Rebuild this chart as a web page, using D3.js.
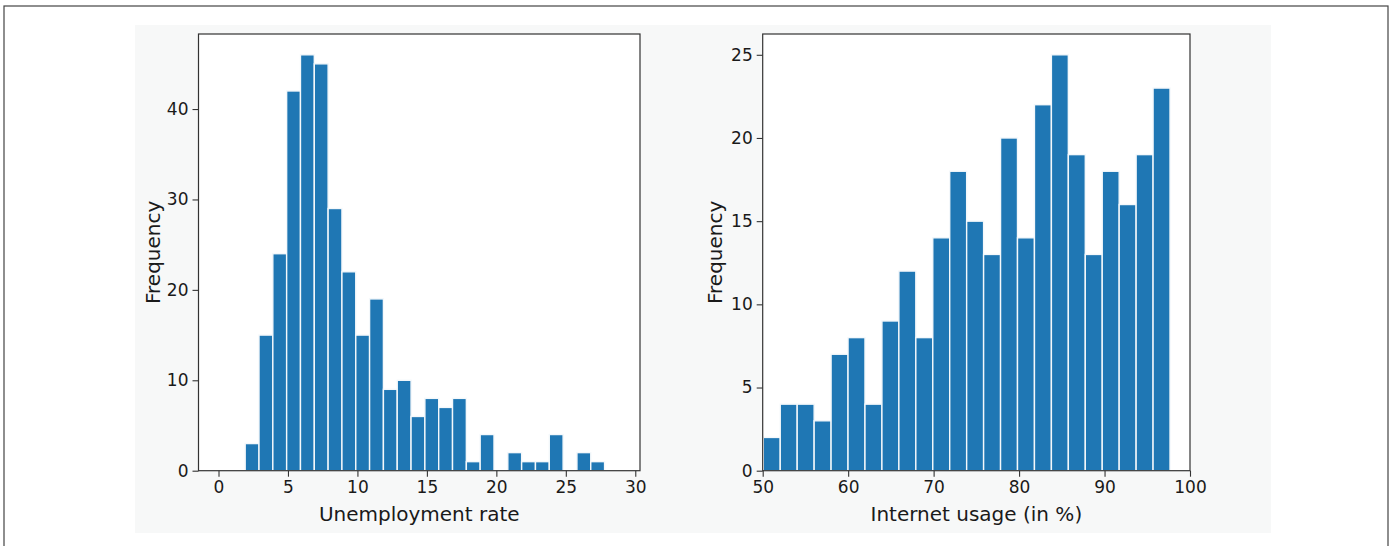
<!DOCTYPE html>
<html>
<head>
<meta charset="utf-8">
<script src="https://cdnjs.cloudflare.com/ajax/libs/d3/7.8.5/d3.min.js"></script>
<style>
  body { margin: 0; background: #fff; }
  text { font-family: "DejaVu Sans", sans-serif; fill: #1a1a1a; }
</style>
</head>
<body>
<script>
// left histogram: unemployment rate, 26 bins of ~1 unit
var unempStart = 1.92, unempWidth = 0.995;
var unempCounts = [3, 15, 24, 42, 46, 45, 29, 22, 15, 19, 9, 10, 6, 8, 7, 8, 1, 4, 0, 2, 1, 1, 4, 0, 2, 1];
var unempTicks = [0, 5, 10, 15, 20, 25, 30];
var unempYTicks = [0, 10, 20, 30, 40];

// right histogram: internet usage, 24 bins of ~2 units
var netStart = 50.07, netWidth = 1.983;
var netCounts = [2, 4, 4, 3, 7, 8, 4, 9, 12, 8, 14, 18, 15, 13, 20, 14, 22, 25, 19, 13, 18, 16, 19, 23];
var netTicks = [50, 60, 70, 80, 90, 100];
var netYTicks = [0, 5, 10, 15, 20, 25];

var W = 1392, H = 546;
var svg = d3.select('body').append('svg').attr('width', W).attr('height', H);

// outer frame and light figure background
svg.append('rect').attr('x', 4).attr('y', 6).attr('width', 1384).attr('height', 560)
    .attr('fill', '#fff').attr('stroke', '#444').attr('stroke-width', 1.2);
svg.append('rect').attr('x', 135).attr('y', 25).attr('width', 1136).attr('height', 508)
    .attr('fill', '#f7f8f8');

function drawHist(opt) {
    var x = d3.scaleLinear().domain(opt.xDomain).range([opt.left, opt.right]);
    var y = d3.scaleLinear().domain(opt.yDomain).range([opt.bottom, opt.top]);
    var g = svg.append('g');

    g.append('rect').attr('x', opt.left).attr('y', opt.top)
        .attr('width', opt.right - opt.left).attr('height', opt.bottom - opt.top)
        .attr('fill', '#fff');

    var bins = opt.counts.map(function (c, i) {
        return { x0: opt.start + i * opt.width, x1: opt.start + (i + 1) * opt.width, n: c };
    }).filter(function (d) { return d.n > 0; });

    g.selectAll('.bar').data(bins).enter().append('rect')
        .attr('class', 'bar')
        .attr('x', function (d) { return x(d.x0); })
        .attr('width', function (d) { return x(d.x1) - x(d.x0); })
        .attr('y', function (d) { return y(d.n); })
        .attr('height', function (d) { return y(0) - y(d.n); })
        .attr('fill', '#1f77b4')
        .attr('stroke', '#f4f8fb')
        .attr('stroke-width', 1.4);

    var xAxis = g.append('g').attr('transform', 'translate(0,' + opt.bottom + ')')
        .call(d3.axisBottom(x).tickValues(opt.xTicks).tickSize(6).tickPadding(4));
    var yAxis = g.append('g').attr('transform', 'translate(' + opt.left + ',0)')
        .call(d3.axisLeft(y).tickValues(opt.yTicks).tickSize(6).tickPadding(4));
    [xAxis, yAxis].forEach(function (a) {
        a.select('.domain').remove();
        a.selectAll('line').attr('stroke', '#333').attr('stroke-width', 1.1);
        a.selectAll('text').style('font-size', '17px').attr('fill', '#1a1a1a');
    });

    g.append('rect').attr('x', opt.left).attr('y', opt.top)
        .attr('width', opt.right - opt.left).attr('height', opt.bottom - opt.top)
        .attr('fill', 'none').attr('stroke', '#333').attr('stroke-width', 1.2);

    g.append('text').attr('x', (opt.left + opt.right) / 2).attr('y', 521)
        .attr('text-anchor', 'middle').style('font-size', '20px').text(opt.xLabel);
    g.append('text')
        .attr('transform', 'translate(' + opt.yLabelX + ',' + ((opt.top + opt.bottom) / 2) + ') rotate(-90)')
        .attr('text-anchor', 'middle').style('font-size', '20px').text('Frequency');
}

drawHist({
    left: 198.5, right: 640, top: 34, bottom: 470.7,
    xDomain: [-1.44, 30.34], yDomain: [0, 48.3],
    start: unempStart, width: unempWidth, counts: unempCounts,
    xTicks: unempTicks, yTicks: unempYTicks,
    xLabel: 'Unemployment rate', yLabelX: 160
});

drawHist({
    left: 762.7, right: 1190, top: 34, bottom: 470.7,
    xDomain: [50, 100], yDomain: [0, 26.25],
    start: netStart, width: netWidth, counts: netCounts,
    xTicks: netTicks, yTicks: netYTicks,
    xLabel: 'Internet usage (in %)', yLabelX: 722
});
</script>
</body>
</html>
